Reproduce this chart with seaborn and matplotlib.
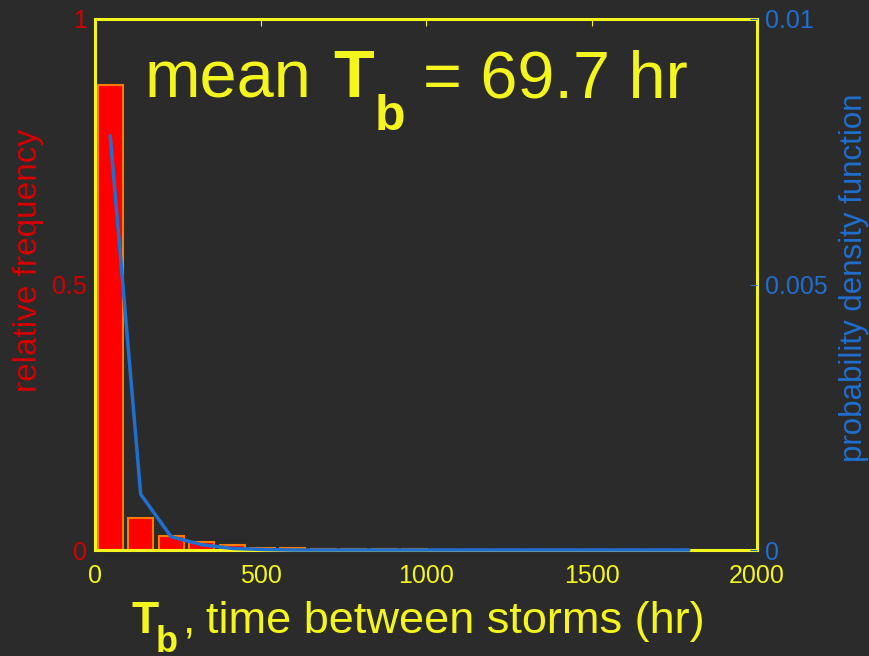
import numpy as np
import pandas as pd
import matplotlib
matplotlib.use('Agg')
import matplotlib.pyplot as plt
import seaborn as sns

# histogram of time between storms (bin centres in hr)
bin_centers = [46, 138, 230, 322, 414, 506, 598, 690, 782, 874,
               966, 1058, 1150, 1242, 1334, 1426, 1518, 1610, 1702, 1794]
rel_freq = [0.876, 0.060, 0.026, 0.015, 0.009, 0.004, 0.003, 0.002, 0.0015, 0.001,
            0.001, 0.0005, 0.0005, 0.0005, 0, 0, 0, 0, 0, 0.0005]
pdf_vals = [0.0078, 0.00105, 0.00025, 0.0001, 0.00003, 0.00001, 0, 0, 0, 0,
            0, 0, 0, 0, 0, 0, 0, 0, 0, 0]
bin_width = 92

x_ticks = [0, 500, 1000, 1500, 2000]
left_ticks = [0, 0.5, 1]
left_labels = ['0', '0.5', '1']
right_ticks = [0, 0.005, 0.01]
right_labels = ['0', '0.005', '0.01']

bg = '#2b2b2b'
yellow = '#f5f51e'
red = '#d40000'
blue = '#1f6fd0'

W, H = 869, 656

sns.set_style('dark')
plt.rcParams['font.family'] = ['Liberation Sans', 'DejaVu Sans']

df = pd.DataFrame({'tb': bin_centers, 'freq': rel_freq, 'pdf': pdf_vals})

fig = plt.figure(figsize=(W / 100, H / 100), dpi=100, facecolor=bg)
ax = fig.add_axes([95 / W, 1 - 550 / H, 662 / W, 531 / H])
ax.set_facecolor(bg)

sns.histplot(data=df, x='tb', weights='freq', bins=len(bin_centers),
             binrange=(0, bin_width * len(bin_centers)), shrink=0.82,
             color='red', edgecolor='#ff7a00', linewidth=1.5, alpha=1, ax=ax)
ax.set_xlim(0, 2000)
ax.set_ylim(0, 1)
ax.set_xticks(x_ticks)
ax.set_yticks(left_ticks)
ax.set_yticklabels(left_labels)
ax.set_xlabel('')
ax.set_ylabel('')
ax.grid(False)
ax.tick_params(axis='x', colors=yellow, labelsize=18, direction='in', length=5,
               pad=10, top=True)
ax.tick_params(axis='y', colors=red, labelsize=18, direction='in', length=5, pad=6)
for s in ax.spines.values():
    s.set_color(yellow)
    s.set_linewidth(2.2)

ax2 = ax.twinx()
sns.lineplot(data=df, x='tb', y='pdf', color=blue, linewidth=2.5, ax=ax2)
ax2.set_ylim(0, 0.01)
ax2.set_xlim(0, 2000)
ax2.set_yticks(right_ticks)
ax2.set_yticklabels(right_labels)
ax2.set_ylabel('')
ax2.grid(False)
ax2.tick_params(axis='y', colors=blue, labelsize=18, direction='in', length=5, pad=6)
for s in ax2.spines.values():
    s.set_visible(False)
for line in ax2.lines:
    line.set_clip_on(False)


def px_text(x, y, s, size, bold=False, **kw):
    # place text by pixel position (x from left, baseline y from top)
    return fig.text(x / W, 1 - y / H, s, fontsize=size, color=kw.pop('color', yellow),
                    fontweight='bold' if bold else 'normal',
                    va=kw.pop('va', 'baseline'), **kw)


px_text(29, 260, 'relative frequency', 24, color=red, rotation=90,
        ha='center', va='center')
px_text(854, 278, 'probability density function', 22.5, color=blue, rotation=90,
        ha='center', va='center')

# title inside the axes: mean T_b = 69.7 hr
px_text(145, 97, 'mean', 48)
px_text(333, 97, 'T', 48, bold=True)
px_text(375, 130, 'b', 36, bold=True)
px_text(423, 97, '= 69.7 hr', 48)

# x label: T_b, time between storms (hr)
px_text(131, 633, 'T', 32, bold=True)
px_text(156, 652, 'b', 26, bold=True)
px_text(183, 633, ',', 32)
px_text(206, 633, 'time between storms (hr)', 32.5)

fig.savefig('out.png', dpi=100, facecolor=bg)
